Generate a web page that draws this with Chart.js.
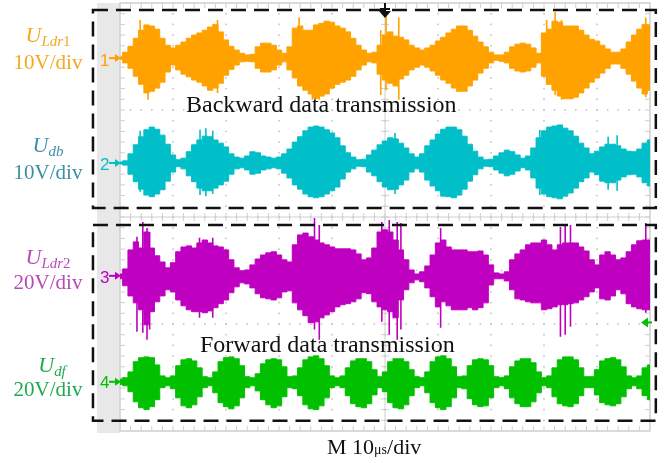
<!DOCTYPE html>
<html>
<head>
<meta charset="utf-8">
<script src="https://cdn.jsdelivr.net/npm/chart.js@4.4.0/dist/chart.umd.min.js"></script>
<style>
  html, body { margin: 0; padding: 0; background: #fff; }
  #wrap { position: relative; width: 665px; height: 463px; overflow: hidden; }
  #scope { position: absolute; left: 0; top: 0; }
  .lab { position: absolute; left: 0; width: 96px; text-align: center; white-space: nowrap;
         font-family: 'Liberation Serif', 'Times New Roman', serif; line-height: 1; }
  .lab sub { font-size: 0.68em; vertical-align: -0.25em; }
  .num { position: absolute; left: 100px; font-family: 'Liberation Sans', Arial, sans-serif;
         font-size: 17px; line-height: 17px; }
  .note { position: absolute; font-family: 'Liberation Serif', 'Times New Roman', serif;
          font-size: 24px; line-height: 24px; color: #111; white-space: nowrap; }
</style>
</head>
<body>
<div id="wrap">
  <canvas id="scope" width="665" height="463"></canvas>

  <div class="lab" style="top:24px;font-size:22px;color:#f5a81c"><i>U</i><sub><i>Ldr</i>1</sub></div>
  <div class="lab" style="top:52px;font-size:21px;color:#f5a81c">10V/div</div>
  <div class="lab" style="top:134px;font-size:22px;color:#3b8ea5"><i>U</i><sub><i>db</i></sub></div>
  <div class="lab" style="top:162px;font-size:21px;color:#3b8ea5">10V/div</div>
  <div class="lab" style="top:246px;font-size:22px;color:#b54ab5"><i>U</i><sub><i>Ldr</i>2</sub></div>
  <div class="lab" style="top:272px;font-size:21px;color:#b54ab5">20V/div</div>
  <div class="lab" style="top:354px;font-size:22px;color:#1daa4a;left:4px"><i>U</i><sub><i>df</i></sub></div>
  <div class="lab" style="top:379px;font-size:21px;color:#1daa4a">20V/div</div>

  <div class="num" style="top:52px;color:#ffa200">1</div>
  <div class="num" style="top:156px;color:#00bfc8">2</div>
  <div class="num" style="top:269px;color:#c000c0">3</div>
  <div class="num" style="top:374px;color:#00c000">4</div>

  <div class="note" style="left:186px;top:92px">Backward data transmission</div>
  <div class="note" style="left:200px;top:332px">Forward data transmission</div>
  <div class="note" style="left:327px;top:436px;font-size:22px;line-height:22px">M 10<span style="font-size:14px">μs</span>/div</div>
</div>

<script>
// sample times, microseconds (10 us/div, 10 divisions)
const timeUs = [0,1,2,3,4,5,6,7,8,9,10,11,12,13,14,15,16,17,18,19,20,21,22,23,24,25,26,27,28,29,
  30,31,32,33,34,35,36,37,38,39,40,41,42,43,44,45,46,47,48,49,50,51,52,53,54,55,56,57,58,59,
  60,61,62,63,64,65,66,67,68,69,70,71,72,73,74,75,76,77,78,79,80,81,82,83,84,85,86,87,88,89,
  90,91,92,93,94,95,96,97,98,99,100];

// envelope of each channel in volts (upper / lower)
const ldr1Upper = [0.2,1.1,2.2,3.7,5.2,6.2,6.0,5.4,3.7,2.4,
  1.9,2.4,3.0,3.7,4.3,4.7,5.2,5.8,6.3,4.9,
  3.4,2.2,1.5,0.9,0.6,0.7,2.1,2.8,2.8,2.4,
  1.5,0.9,2.1,5.6,6.0,5.2,5.2,6.2,6.5,6.9,
  6.7,6.0,5.6,4.9,3.7,2.4,1.5,0.9,1.1,2.4,
  4.3,4.9,4.1,3.9,3.4,2.4,1.9,1.5,1.9,2.4,
  3.2,3.9,4.7,5.4,6.0,6.0,5.2,4.1,3.0,2.1,
  1.1,0.6,0.6,1.1,2.1,2.6,2.8,2.6,1.9,0.9,
  4.7,5.4,6.9,6.7,6.0,6.0,6.0,5.2,4.3,3.5,
  3.2,2.4,1.7,1.1,1.1,1.7,3.0,4.3,5.4,6.3,6.2];
const ldr1Lower = [-0.2,-0.9,-1.9,-3.4,-4.9,-6.5,-6.2,-5.6,-4.5,-2.6,
  -1.3,-2.2,-3.0,-3.5,-4.1,-4.5,-5.2,-6.0,-5.6,-4.7,
  -3.2,-2.1,-1.3,-0.7,-0.6,-0.7,-1.9,-2.6,-2.6,-2.2,
  -1.3,-0.7,-2.2,-3.7,-5.2,-6.0,-6.7,-7.5,-7.1,-6.7,
  -5.6,-4.9,-4.5,-4.1,-3.4,-2.2,-1.3,-0.7,-0.9,-3.0,
  -4.1,-4.7,-5.2,-3.9,-3.2,-2.2,-1.7,-1.3,-1.7,-2.4,
  -3.2,-4.1,-4.7,-5.6,-6.2,-6.2,-5.2,-4.1,-2.8,-1.9,
  -0.9,-0.4,-0.6,-0.9,-1.9,-2.4,-2.6,-2.4,-1.7,-0.9,
  -3.4,-4.9,-6.0,-7.1,-7.6,-7.6,-7.3,-6.5,-5.6,-4.5,
  -3.7,-2.8,-1.9,-1.1,-1.1,-1.9,-3.0,-4.3,-5.6,-6.7,-6.0];

const dbUpper = [0.2,0.4,1.7,3.4,4.9,6.2,6.7,6.3,5.2,3.5,
  1.5,0.6,0.9,2.1,3.4,4.3,5.0,4.9,4.3,3.7,
  3.0,1.7,1.1,0.9,1.3,2.1,1.9,1.3,1.1,0.9,
  1.1,1.7,2.6,3.9,4.9,6.0,6.7,6.9,6.7,6.2,
  5.6,4.7,3.2,1.9,1.1,0.6,0.7,1.5,2.4,3.4,
  4.1,4.7,4.5,3.7,2.8,1.7,1.1,1.7,3.2,4.3,
  5.4,6.3,6.7,6.7,6.2,5.0,3.5,2.2,1.1,0.6,
  0.7,1.3,1.9,2.4,2.1,1.5,0.9,1.3,2.8,4.7,
  6.0,6.7,6.9,7.1,6.5,6.0,5.0,3.7,2.8,1.7,
  2.2,3.0,3.5,3.5,3.2,2.6,2.2,2.1,2.6,3.7,4.3];
const dbLower = [-0.2,-0.4,-2.1,-3.5,-4.9,-6.0,-6.3,-5.8,-5.0,-3.4,
  -1.7,-0.7,-1.1,-2.4,-3.5,-4.7,-5.2,-5.2,-4.7,-4.1,
  -3.4,-2.1,-1.1,-0.9,-1.3,-2.1,-1.9,-1.3,-1.1,-0.9,
  -1.1,-1.9,-2.8,-4.1,-4.9,-5.8,-6.3,-6.5,-6.3,-5.8,
  -5.2,-4.5,-3.0,-1.7,-1.1,-0.6,-0.7,-1.7,-2.4,-3.5,
  -4.5,-5.0,-4.9,-4.1,-3.2,-1.7,-1.1,-1.7,-3.2,-4.3,
  -5.2,-6.2,-6.3,-6.5,-6.0,-4.9,-3.4,-2.2,-1.1,-0.6,
  -0.7,-1.3,-1.9,-2.4,-2.1,-1.5,-0.9,-1.3,-2.8,-4.7,
  -5.8,-6.3,-6.5,-6.7,-6.2,-5.6,-4.7,-3.5,-2.8,-1.7,
  -2.2,-3.4,-3.7,-3.7,-3.2,-2.6,-2.2,-2.1,-2.6,-3.7,-4.3];

const ldr2Upper = [0.7,2.6,9.7,12.7,10.4,16.4,10.4,7.5,5.2,3.0,
  4.9,9.0,10.8,11.2,10.4,12.3,13.4,12.3,11.2,10.8,
  9.7,6.0,3.0,1.9,2.2,4.1,6.3,7.8,8.6,9.0,
  7.8,6.0,5.2,11.6,15.3,16.0,14.6,13.4,12.3,11.6,
  10.8,10.1,10.1,10.1,9.7,8.2,6.0,6.7,10.4,16.4,
  17.2,16.4,13.4,9.7,6.0,2.2,0.7,1.5,3.7,7.8,
  12.3,13.4,10.8,9.7,9.7,9.7,9.0,9.0,9.3,7.8,
  4.1,1.1,0.7,1.5,6.0,8.2,9.7,11.6,12.3,12.3,
  13.4,11.6,9.7,11.6,12.3,12.3,12.3,10.8,9.3,6.0,
  4.1,7.8,9.0,7.8,6.0,6.7,9.0,11.6,13.1,13.4,13.4];
const ldr2Lower = [-1.1,-3.7,-7.5,-10.1,-12.7,-18.3,-13.4,-9.7,-7.5,-5.2,
  -6.0,-9.0,-11.2,-12.7,-13.4,-13.4,-13.8,-13.1,-11.9,-10.4,
  -9.0,-6.3,-4.1,-2.6,-3.0,-4.5,-6.7,-8.2,-8.6,-9.0,
  -8.2,-6.0,-5.6,-10.1,-12.7,-14.9,-17.5,-17.2,-15.7,-14.6,
  -13.4,-11.6,-10.8,-10.4,-9.7,-8.6,-6.3,-6.7,-9.7,-11.6,
  -12.7,-13.4,-15.7,-9.0,-5.2,-2.6,-1.5,-2.2,-4.5,-7.8,
  -11.6,-9.7,-11.2,-12.7,-12.7,-12.7,-11.9,-12.7,-11.9,-10.1,
  -3.4,-1.1,-1.1,-1.9,-5.2,-8.6,-9.0,-9.7,-10.1,-10.1,
  -12.7,-12.3,-11.6,-10.8,-10.8,-10.4,-10.1,-9.0,-7.8,-6.0,
  -4.5,-8.6,-9.0,-7.5,-5.2,-6.7,-10.4,-11.6,-12.3,-12.7,-12.7];

const dfUpper = [1.0,1.5,3.7,7.5,9.0,9.3,9.0,6.3,2.2,1.5,
  2.2,6.0,8.2,8.6,7.8,5.2,1.9,1.5,3.7,7.5,
  9.0,9.3,8.6,6.0,1.9,1.5,3.0,6.7,8.2,8.6,
  8.2,5.6,1.9,2.2,5.2,8.2,9.3,9.7,8.6,6.0,
  2.2,1.5,2.2,5.2,7.8,8.6,8.6,7.5,4.5,1.9,
  3.7,7.5,8.6,8.6,7.5,4.5,1.9,1.5,3.7,7.5,
  9.3,9.7,8.6,5.6,1.9,2.2,6.0,8.2,8.6,8.2,
  6.0,1.9,1.5,2.2,5.6,7.8,8.6,8.6,7.1,3.7,
  1.5,2.2,5.2,8.2,9.3,9.3,8.2,5.2,1.9,1.9,
  4.5,7.8,8.6,9.0,8.2,5.6,2.2,1.5,2.2,5.2,6.3];
const dfLower = [-1.0,-1.5,-3.7,-7.5,-9.7,-10.4,-9.3,-6.7,-2.2,-1.5,
  -2.6,-6.0,-9.0,-9.7,-8.6,-5.6,-2.2,-1.5,-4.1,-7.8,
  -9.3,-10.1,-9.0,-6.0,-2.2,-1.5,-3.4,-6.7,-8.6,-9.7,
  -9.0,-5.6,-2.2,-2.6,-5.2,-8.6,-10.1,-10.4,-9.0,-6.0,
  -2.2,-1.5,-2.2,-5.2,-8.2,-9.3,-9.7,-8.2,-4.9,-2.2,
  -3.7,-7.8,-9.7,-10.1,-8.6,-5.2,-2.2,-1.5,-4.1,-7.8,
  -9.7,-10.4,-9.3,-6.0,-2.2,-2.6,-6.3,-8.6,-9.3,-9.0,
  -6.0,-2.2,-1.5,-2.6,-6.0,-8.2,-9.3,-9.3,-7.5,-4.1,
  -1.5,-2.2,-5.6,-8.2,-9.0,-9.3,-8.2,-5.2,-2.2,-2.2,
  -4.9,-7.8,-8.6,-9.0,-8.2,-5.6,-2.6,-1.5,-2.6,-5.2,-6.7];

// isolated tall carrier spikes: [time us, top V, bottom V]
const ldr1Spikes = [[3.8,7.1,-4.1],[5.3,5.2,-7.8],[18.4,7.1,-6.5],[33.8,7.6,-4.1],[36.3,5.2,-7.8],
  [37.6,6.2,-7.8],[49.2,5.2,-6.9],[50.2,8.4,-6.0],[52.6,7.6,-7.8],[80.5,7.1,-5.0],[82.1,8.6,-6.9],
  [83.3,7.1,-7.8],[99.2,7.6,-7.3]];
const dbSpikes = [[3.8,6.0,-5.4],[15.1,6.2,-6.0],[16.2,6.5,-6.2],[17.5,6.0,-5.8],[51.9,5.6,-5.8],
  [79.2,6.2,-6.0],[92.1,4.9,-5.0],[93.8,5.2,-5.2]];
const ldr2Spikes = [[3.2,14.6,-20.9],[4.3,20.1,-21.3],[5.1,17.9,-23.9],[5.6,16.4,-20.1],[15.0,14.2,-15.7],
  [17.5,14.2,-15.7],[36.7,21.6,-20.1],[37.6,19.0,-23.9],[49.4,20.1,-17.2],[50.8,20.9,-22.0],
  [52.3,20.1,-23.9],[53.0,19.8,-20.1],[60.5,17.9,-19.4],[83.1,18.3,-22.8],[84.0,19.0,-22.0],
  [85.0,19.0,-19.0],[99.2,19.8,-13.8]];
const dfSpikes = [];

// channel settings: volts per division and ground position (divisions from bottom)
const channels = [
  { upper: ldr1Upper, lower: ldr1Lower, spikes: ldr1Spikes, voltsPerDiv: 10, groundDiv: 6.97, color: '#ffa200' },
  { upper: dbUpper, lower: dbLower, spikes: dbSpikes, voltsPerDiv: 10, groundDiv: 5.01, color: '#00bfc8' },
  { upper: ldr2Upper, lower: ldr2Lower, spikes: ldr2Spikes, voltsPerDiv: 20, groundDiv: 2.90, color: '#c000c0' },
  { upper: dfUpper, lower: dfLower, spikes: dfSpikes, voltsPerDiv: 20, groundDiv: 0.92, color: '#00c000' }
];

function toDiv(ch, v) {
  return ch.groundDiv + v / ch.voltsPerDiv;
}

function envelope(ch, values) {
  return timeUs.map((t, i) => ({ x: t, y: toDiv(ch, values[i]) }));
}

function spikePoints(ch) {
  const pts = [];
  ch.spikes.forEach(([t, hi, lo]) => {
    pts.push({ x: t, y: toDiv(ch, hi) }, { x: t, y: toDiv(ch, lo) }, { x: t, y: null });
  });
  return pts;
}

const datasets = [];
channels.forEach((ch) => {
  datasets.push({
    data: envelope(ch, ch.upper), borderColor: ch.color, borderWidth: 1,
    stepped: 'middle', pointRadius: 0, fill: false
  });
  datasets.push({
    data: envelope(ch, ch.lower), borderColor: ch.color, borderWidth: 1,
    backgroundColor: ch.color, stepped: 'middle', pointRadius: 0, fill: '-1'
  });
  datasets.push({
    data: spikePoints(ch), borderColor: ch.color, borderWidth: 1.6,
    pointRadius: 0, fill: false, spanGaps: false
  });
});

// oscilloscope graticule: dotted division lines, minor ticks on the frame and centre lines
const graticule = {
    id: 'graticule',
    beforeDatasetsDraw(chart) {
        const { ctx, chartArea: a, scales: { x, y } } = chart;
        ctx.save();
        ctx.fillStyle = '#e8e8e8';
        ctx.fillRect(a.left - 23, a.top, 23, a.bottom - a.top + 2);

        ctx.fillStyle = '#c4c4c4';
        for (let d = 10; d < 100; d += 10) {
            const px = x.getPixelForValue(d);
            for (let m = 0.2; m < 8; m += 0.2) {
                ctx.fillRect(px - 0.8, y.getPixelForValue(m) - 0.8, 1.6, 1.6);
            }
        }
        for (let d = 1; d < 8; d++) {
            const py = y.getPixelForValue(d);
            for (let m = 2; m < 100; m += 2) {
                ctx.fillRect(x.getPixelForValue(m) - 0.8, py - 0.8, 1.6, 1.6);
            }
        }

        ctx.strokeStyle = '#cfcfcf';
        ctx.lineWidth = 1.5;
        ctx.strokeRect(a.left, a.top, a.right - a.left, a.bottom - a.top);
        const cx = x.getPixelForValue(50), cy = y.getPixelForValue(4);
        ctx.lineWidth = 1;
        ctx.beginPath();
        ctx.moveTo(a.left, cy); ctx.lineTo(a.right, cy);
        ctx.moveTo(cx, a.top); ctx.lineTo(cx, a.bottom);
        for (let m = 2; m < 100; m += 2) {
            const px = x.getPixelForValue(m);
            ctx.moveTo(px, a.top); ctx.lineTo(px, a.top + 5);
            ctx.moveTo(px, a.bottom); ctx.lineTo(px, a.bottom - 5);
            ctx.moveTo(px, cy - 4); ctx.lineTo(px, cy + 4);
        }
        for (let m = 0.2; m < 8; m += 0.2) {
            const py = y.getPixelForValue(m);
            ctx.moveTo(a.left, py); ctx.lineTo(a.left + 5, py);
            ctx.moveTo(a.right, py); ctx.lineTo(a.right - 5, py);
            ctx.moveTo(cx - 4, py); ctx.lineTo(cx + 4, py);
        }
        ctx.stroke();
        ctx.restore();
    }
};

// dashed frames, channel ground arrows, trigger markers
const markers = {
    id: 'markers',
    afterDatasetsDraw(chart) {
        const { ctx, chartArea: a, scales: { x, y } } = chart;
        ctx.save();

        channels.forEach((ch) => {
            const py = y.getPixelForValue(ch.groundDiv);
            ctx.strokeStyle = ch.color;
            ctx.fillStyle = ch.color;
            ctx.lineWidth = 2;
            ctx.beginPath();
            ctx.moveTo(a.left - 11, py); ctx.lineTo(a.left - 3, py);
            ctx.stroke();
            ctx.beginPath();
            ctx.moveTo(a.left + 1, py); ctx.lineTo(a.left - 5, py - 4); ctx.lineTo(a.left - 5, py + 4);
            ctx.closePath();
            ctx.fill();
        });

        // trigger position (top) and trigger level (right)
        const tx = x.getPixelForValue(50);
        ctx.fillStyle = '#111';
        ctx.fillRect(tx - 1, a.top, 2, 8);
        ctx.fillRect(tx - 5, a.top + 5, 10, 2);
        ctx.beginPath();
        ctx.moveTo(tx - 6, a.top + 8); ctx.lineTo(tx + 6, a.top + 8); ctx.lineTo(tx, a.top + 15);
        ctx.closePath();
        ctx.fill();

        const ly = y.getPixelForValue(2.03);
        ctx.fillStyle = '#00c000';
        ctx.beginPath();
        ctx.moveTo(a.right - 9, ly); ctx.lineTo(a.right - 2, ly - 5); ctx.lineTo(a.right - 2, ly + 5);
        ctx.closePath();
        ctx.fill();
        ctx.fillRect(a.right - 3, ly - 1, 5, 2);

        // dashed boxes around backward and forward channels
        ctx.strokeStyle = '#111';
        ctx.lineWidth = 2.5;
        ctx.setLineDash([15, 8]);
        [[7.87, 4.17], [3.85, 0.19]].forEach(([top, bottom]) => {
            const x0 = x.getPixelForValue(-5.1), x1 = x.getPixelForValue(101.1);
            const y0 = y.getPixelForValue(top), y1 = y.getPixelForValue(bottom);
            ctx.strokeRect(x0, y0, x1 - x0, y1 - y0);
        });
        ctx.restore();
    }
};

new Chart(document.getElementById('scope'), {
    type: 'line',
    data: { datasets },
    options: {
        responsive: false,
        animation: false,
        devicePixelRatio: 1,
        layout: { padding: { left: 120, right: 15, top: 3, bottom: 32 } },
        scales: {
            x: { type: 'linear', min: 0, max: 100, display: false },
            y: { type: 'linear', min: 0, max: 8, display: false }
        },
        plugins: { legend: { display: false }, tooltip: { enabled: false } },
        elements: { line: { tension: 0 } }
    },
    plugins: [graticule, markers]
});
</script>
</body>
</html>
